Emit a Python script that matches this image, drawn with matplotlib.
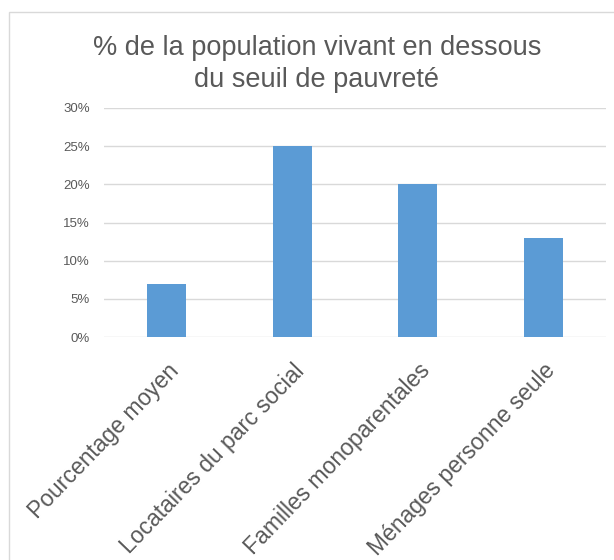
import matplotlib
matplotlib.use("Agg")
import matplotlib.pyplot as plt
from matplotlib.patches import Rectangle
from matplotlib.ticker import FuncFormatter

plt.rcParams["font.family"] = ["Liberation Sans", "DejaVu Sans"]

categories = ["Pourcentage moyen", "Locataires du parc social",
              "Familles monoparentales", "Ménages personne seule"]
values = [7, 25, 20, 13]
yticks = [0, 5, 10, 15, 20, 25, 30]

bar_color = "#5B9BD5"
grid_color = "#D9D9D9"
text_gray = "#595959"

W, H = 614, 560
fig = plt.figure(figsize=(W / 100, H / 100), dpi=100)
fig.patch.set_facecolor("white")

# chart frame (runs past the right and bottom edges)
frame = Rectangle((8.5 / W, -0.05), 1.1, 1.05 - 12 / H,
                  transform=fig.transFigure, fill=False,
                  edgecolor=grid_color, linewidth=1)
fig.patches.append(frame)

ax = fig.add_axes([104 / W, 1 - 337 / H, (606 - 104) / W, (337 - 108) / H])
x = range(len(categories))
ax.bar(x, values, width=0.31, color=bar_color, zorder=3)

ax.set_xlim(-0.5, len(categories) - 0.5)
ax.set_ylim(0, 30)
ax.set_yticks(yticks)
ax.yaxis.set_major_formatter(FuncFormatter(lambda v, p: f"{v:.0f}%"))
ax.grid(axis="y", color=grid_color, linewidth=1, zorder=0)
for s in ax.spines.values():
    s.set_visible(False)
ax.tick_params(axis="y", length=0, pad=10, labelsize=9.5, labelcolor=text_gray)
ax.tick_params(axis="x", length=0, pad=16)

ax.set_xticks(list(x))
ax.set_xticklabels(categories, rotation=46, ha="right",
                   rotation_mode="anchor", fontsize=16.5, color=text_gray)

# title, two lines
fig.text(317 / W, 1 - 55 / H, "% de la population vivant en dessous",
         ha="center", va="baseline", fontsize=19.5, color=text_gray)
fig.text(317 / W, 1 - 87 / H, "du seuil de pauvreté",
         ha="center", va="baseline", fontsize=19.5, color=text_gray)

fig.savefig("out.png", dpi=100, facecolor="white")
